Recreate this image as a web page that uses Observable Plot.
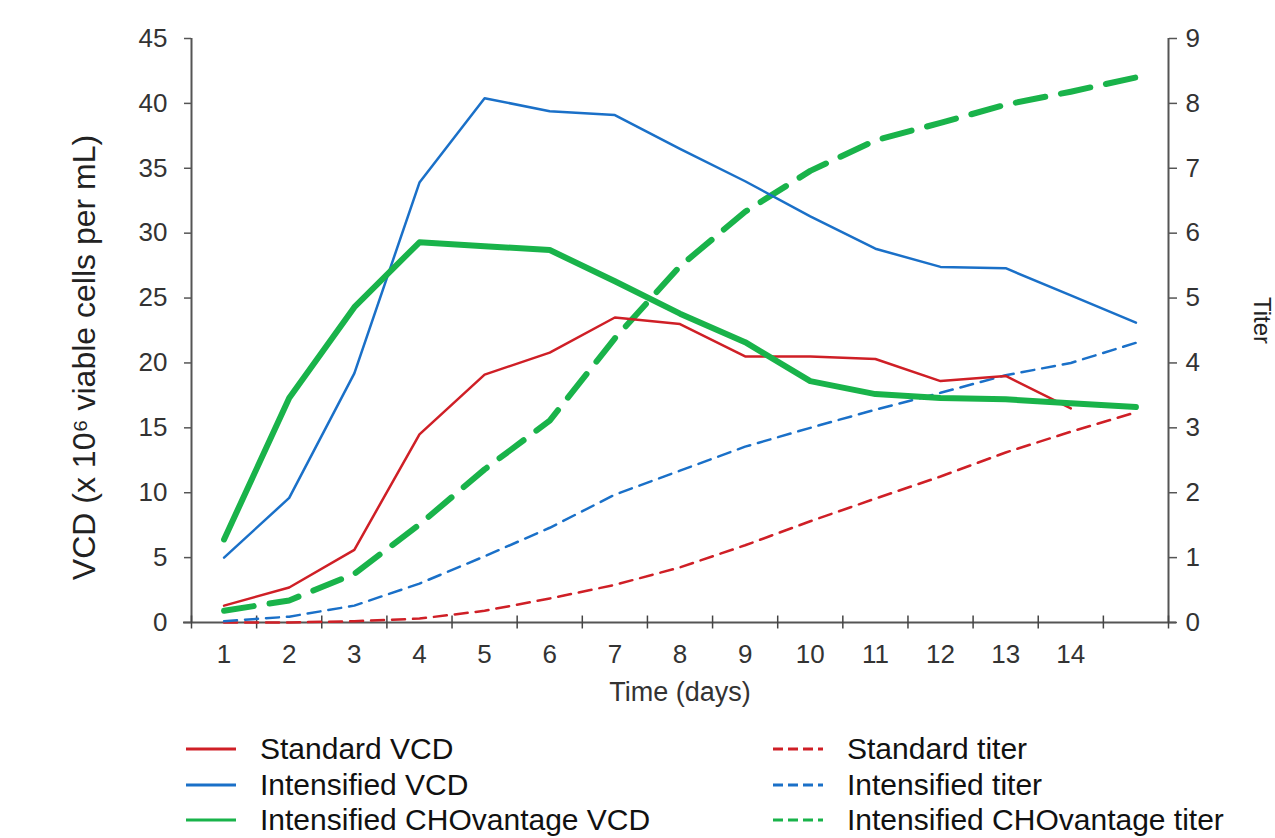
<!DOCTYPE html>
<html>
<head>
<meta charset="utf-8">
<script src="https://cdn.jsdelivr.net/npm/d3@7"></script>
<script src="https://cdn.jsdelivr.net/npm/@observablehq/plot@0.6"></script>
<style>
  html, body { margin: 0; padding: 0; background: #fff; }
  #wrap { position: relative; width: 1275px; height: 838px; overflow: hidden; font-family: "Liberation Sans", Arial, sans-serif; }
  .lg { position: absolute; height: 36px; display: flex; align-items: center; font-size: 30px; color: #111; white-space: nowrap; }
  .lg svg { margin-right: 22px; }
</style>
</head>
<body>
<div id="wrap"></div>
<script>
// ---- data ----
const days = [1, 2, 3, 4, 5, 6, 7, 8, 9, 10, 11, 12, 13, 14, 15];
const standardVCD = [1.3, 2.7, 5.6, 14.5, 19.1, 20.8, 23.5, 23.0, 20.5, 20.5, 20.3, 18.6, 19.0, 16.5];
const intensifiedVCD = [5.0, 9.6, 19.2, 33.9, 40.4, 39.4, 39.1, 36.5, 34.0, 31.3, 28.8, 27.4, 27.3, 25.2, 23.1];
const choVantageVCD = [6.4, 17.3, 24.3, 29.3, 29.0, 28.7, 26.3, 23.8, 21.6, 18.6, 17.6, 17.3, 17.2, 16.9, 16.6];
const standardTiter = [0.0, 0.0, 0.02, 0.06, 0.18, 0.37, 0.58, 0.85, 1.19, 1.56, 1.91, 2.25, 2.62, 2.94, 3.24];
const intensifiedTiter = [0.02, 0.09, 0.26, 0.6, 1.02, 1.46, 1.97, 2.34, 2.71, 3.0, 3.28, 3.54, 3.81, 4.0, 4.31];
const choVantageTiter = [0.18, 0.34, 0.75, 1.51, 2.36, 3.11, 4.38, 5.49, 6.33, 6.96, 7.43, 7.70, 7.98, 8.18, 8.40];
const xTickLabels = [1, 2, 3, 4, 5, 6, 7, 8, 9, 10, 11, 12, 13, 14];
const xTickMarks = [0.5, 1.5, 2.5, 3.5, 4.5, 5.5, 6.5, 7.5, 8.5, 9.5, 10.5, 11.5, 12.5, 13.5, 14.5, 15.5];
const vcdTicks = [0, 5, 10, 15, 20, 25, 30, 35, 40, 45];
const titerTicks = [0, 1, 2, 3, 4, 5, 6, 7, 8, 9];
const vcdMax = 45, titerMax = 9;

const seriesLabels = ["Standard VCD", "Intensified VCD", "Intensified CHOvantage VCD",
                      "Standard titer", "Intensified titer", "Intensified CHOvantage titer"];
const colors = { red: "#cf1f26", blue: "#1a70c8", green: "#19b34a" };

// ---- build tables ----
const k = vcdMax / titerMax; // titer is drawn on the VCD scale, right axis shows titer
const toRows = (vals, f = 1) => vals.map((v, i) => ({ day: days[i], v: v * f }));

const fontFamily = '"Liberation Sans", Arial, sans-serif';

const chart = Plot.plot({
  width: 1275,
  height: 730,
  marginLeft: 191,
  marginRight: 107,
  marginTop: 38,
  marginBottom: 108,
  style: { fontFamily, color: "#333", background: "white", overflow: "visible" },
  x: { domain: [0.5, 15.5] },
  y: { domain: [0, vcdMax] },
  marks: [
    // frame lines
    Plot.ruleX([0.5], { stroke: "#555", strokeWidth: 2 }),
    Plot.ruleX([15.5], { stroke: "#555", strokeWidth: 2 }),
    Plot.ruleY([0], { stroke: "#555", strokeWidth: 2, insetLeft: -8, insetRight: -8 }),
    // x tick marks crossing the axis between day labels
    Plot.ruleX(xTickMarks, { y1: -0.5, y2: 0.5, stroke: "#444", strokeWidth: 1.5 }),
    Plot.axisX({ ticks: xTickLabels, tickSize: 0, tickPadding: 22, fontSize: 26, label: null, tickFormat: d => String(d) }),
    Plot.axisY({ ticks: vcdTicks, tickSize: 7, tickPadding: 17, fontSize: 26, label: null, stroke: "#555", strokeWidth: 1.5 }),
    Plot.axisY({ anchor: "right", ticks: titerTicks.map(t => t * k), tickFormat: d => String(Math.round(d / k)),
                 tickSize: 8, tickPadding: 9, fontSize: 26, label: null, stroke: "#555", strokeWidth: 1.5 }),
    // axis titles
    Plot.text(["Time (days)"], { frameAnchor: "bottom", textAnchor: "middle", dy: 78, fontSize: 27, fill: "#333" }),
    Plot.text(["VCD (x 10\u2076 viable cells per mL)"], { frameAnchor: "left", textAnchor: "middle", dx: -107, dy: 27, rotate: -90, fontSize: 32, fill: "#222" }),
    Plot.text(["Titer"], { frameAnchor: "right", textAnchor: "middle", dx: 93, dy: -10, rotate: 90, fontSize: 24, fill: "#222" }),
    // titer lines (dashed)
    Plot.line(toRows(standardTiter, k), { x: "day", y: "v", stroke: colors.red, strokeWidth: 2.5, strokeDasharray: "13,8" }),
    Plot.line(toRows(intensifiedTiter, k), { x: "day", y: "v", stroke: colors.blue, strokeWidth: 2.5, strokeDasharray: "13,8" }),
    Plot.line(toRows(choVantageTiter, k), { x: "day", y: "v", stroke: colors.green, strokeWidth: 6, strokeDasharray: "30,16" }),
    // VCD lines (solid)
    Plot.line(toRows(standardVCD), { x: "day", y: "v", stroke: colors.red, strokeWidth: 2.5 }),
    Plot.line(toRows(intensifiedVCD), { x: "day", y: "v", stroke: colors.blue, strokeWidth: 2.5 }),
    Plot.line(toRows(choVantageVCD), { x: "day", y: "v", stroke: colors.green, strokeWidth: 6 })
  ]
});

const wrap = document.getElementById("wrap");
chart.style.position = "absolute";
chart.style.left = "0px";
chart.style.top = "0px";
wrap.appendChild(chart);

// ---- legend ----
const legendItems = [
  { label: seriesLabels[0], color: colors.red, dash: null, x: 186, y: 731 },
  { label: seriesLabels[1], color: colors.blue, dash: null, x: 186, y: 767 },
  { label: seriesLabels[2], color: colors.green, dash: null, x: 186, y: 802 },
  { label: seriesLabels[3], color: colors.red, dash: "10,5", x: 773, y: 731 },
  { label: seriesLabels[4], color: colors.blue, dash: "10,5", x: 773, y: 767 },
  { label: seriesLabels[5], color: colors.green, dash: "10,5", x: 773, y: 802 }
];
for (const it of legendItems) {
  const row = document.createElement("div");
  row.className = "lg";
  row.style.left = it.x + "px";
  row.style.top = it.y + "px";
  const ns = "http://www.w3.org/2000/svg";
  const s = document.createElementNS(ns, "svg");
  s.setAttribute("width", "52");
  s.setAttribute("height", "10");
  const l = document.createElementNS(ns, "line");
  l.setAttribute("x1", "0"); l.setAttribute("x2", "50");
  l.setAttribute("y1", "5"); l.setAttribute("y2", "5");
  l.setAttribute("stroke", it.color);
  l.setAttribute("stroke-width", "3");
  if (it.dash) l.setAttribute("stroke-dasharray", it.dash);
  s.appendChild(l);
  row.appendChild(s);
  const t = document.createElement("span");
  t.textContent = it.label;
  row.appendChild(t);
  wrap.appendChild(row);
}
</script>
</body>
</html>
